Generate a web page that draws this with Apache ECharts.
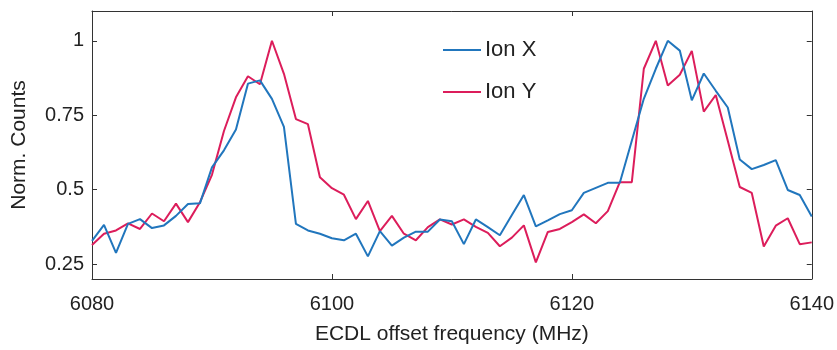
<!DOCTYPE html>
<html>
<head>
<meta charset="utf-8">
<script src="https://cdn.jsdelivr.net/npm/echarts@6/dist/echarts.min.js"></script>
<style>
  html, body { margin: 0; padding: 0; background: #fff; }
  #chart { width: 837px; height: 350px; }
</style>
</head>
<body>
<div id="chart"></div>
<script>
// ECDL offset frequency scan (MHz)
const freqs = [
  6080, 6081, 6082, 6083, 6084, 6085, 6086, 6087, 6088, 6089,
  6090, 6091, 6092, 6093, 6094, 6095, 6096, 6097, 6098, 6099,
  6100, 6101, 6102, 6103, 6104, 6105, 6106, 6107, 6108, 6109,
  6110, 6111, 6112, 6113, 6114, 6115, 6116, 6117, 6118, 6119,
  6120, 6121, 6122, 6123, 6124, 6125, 6126, 6127, 6128, 6129,
  6130, 6131, 6132, 6133, 6134, 6135, 6136, 6137, 6138, 6139,
  6140
];

// Normalized counts per ion
const ionX = [
  0.328, 0.382, 0.288, 0.385, 0.401, 0.371, 0.380, 0.412, 0.452, 0.454,
  0.575, 0.632, 0.702, 0.856, 0.867, 0.805, 0.711, 0.385, 0.363, 0.352,
  0.337, 0.330, 0.352, 0.276, 0.361, 0.312, 0.339, 0.359, 0.359, 0.400,
  0.394, 0.317, 0.400, 0.374, 0.347, 0.415, 0.482, 0.377, 0.397, 0.418,
  0.431, 0.489, 0.506, 0.523, 0.523, 0.664, 0.805, 0.906, 1.000, 0.967,
  0.800, 0.890, 0.832, 0.776, 0.601, 0.569, 0.583, 0.599, 0.499, 0.482,
  0.410
];
const ionY = [
  0.314, 0.352, 0.363, 0.387, 0.368, 0.420, 0.394, 0.453, 0.391, 0.458,
  0.550, 0.697, 0.810, 0.881, 0.854, 1.000, 0.889, 0.737, 0.720, 0.542,
  0.505, 0.483, 0.401, 0.462, 0.361, 0.412, 0.352, 0.330, 0.374, 0.400,
  0.383, 0.400, 0.375, 0.355, 0.310, 0.339, 0.380, 0.256, 0.358, 0.368,
  0.391, 0.417, 0.387, 0.428, 0.525, 0.525, 0.906, 1.000, 0.850, 0.886,
  0.966, 0.762, 0.818, 0.664, 0.509, 0.489, 0.309, 0.379, 0.404, 0.317,
  0.323
];

const seriesNames = ['Ion X', 'Ion Y'];
const yTicks = [0.25, 0.5, 0.75, 1];
const xTicks = [6080, 6100, 6120, 6140];

const FONT = '"Liberation Sans", Arial, Helvetica, sans-serif';
const AXIS_COLOR = '#333';

const pairs = arr => freqs.map((f, i) => [f, arr[i]]);

const chart = echarts.init(document.getElementById('chart'), null, { renderer: 'canvas' });

const tickInside = { show: true, inside: true, length: 5, lineStyle: { color: AXIS_COLOR, width: 1 } };

chart.setOption({
  animation: false,
  backgroundColor: '#fff',
  textStyle: { fontFamily: FONT },
  grid: { left: 92, right: 25, top: 11, bottom: 63, containLabel: false },
  legend: {
    data: seriesNames,
    orient: 'vertical',
    left: 443,
    top: 39,
    padding: 0,
    itemWidth: 38,
    itemHeight: 14,
    itemGap: 20,
    icon: 'path://M0,6 L38,6 L38,8 L0,8 Z',
    textStyle: { fontFamily: FONT, fontSize: 22, color: '#222', padding: [0, 0, 0, -1] },
    selectedMode: false
  },
  xAxis: [
    {
      type: 'value',
      min: 6080,
      max: 6140,
      interval: 20,
      name: 'ECDL offset frequency (MHz)',
      nameLocation: 'middle',
      nameGap: 45,
      nameTextStyle: { fontFamily: FONT, fontSize: 21, color: '#222' },
      axisLine: { show: true, lineStyle: { color: AXIS_COLOR, width: 1 } },
      axisTick: Object.assign({}, tickInside, { customValues: xTicks }),
      axisLabel: {
        customValues: xTicks, fontFamily: FONT, fontSize: 20, color: '#222', margin: 15,
        formatter: v => String(v)
      },
      splitLine: { show: false }
    },
    {
      type: 'value',
      position: 'top',
      min: 6080,
      max: 6140,
      interval: 20,
      axisLine: { show: true, lineStyle: { color: AXIS_COLOR, width: 1 } },
      axisTick: Object.assign({}, tickInside, { customValues: xTicks }),
      axisLabel: { show: false },
      splitLine: { show: false }
    }
  ],
  yAxis: [
    {
      type: 'value',
      min: 0.2,
      max: 1.1,
      name: 'Norm. Counts',
      nameLocation: 'middle',
      nameGap: 62,
      nameTextStyle: { fontFamily: FONT, fontSize: 21, color: '#222' },
      axisLine: { show: true, lineStyle: { color: AXIS_COLOR, width: 1 } },
      axisTick: Object.assign({}, tickInside, { customValues: yTicks }),
      axisLabel: {
        customValues: yTicks,
        fontFamily: FONT, fontSize: 20, color: '#222', margin: 8,
        formatter: v => String(+v.toFixed(2))
      },
      splitLine: { show: false }
    },
    {
      type: 'value',
      position: 'right',
      min: 0.2,
      max: 1.1,
      axisLine: { show: true, lineStyle: { color: AXIS_COLOR, width: 1 } },
      axisTick: Object.assign({}, tickInside, { customValues: yTicks }),
      axisLabel: { show: false },
      splitLine: { show: false }
    }
  ],
  series: [
    {
      name: seriesNames[0],
      type: 'line',
      data: pairs(ionX),
      symbol: 'none',
      lineStyle: { color: '#2176bd', width: 2 },
      itemStyle: { color: '#2176bd' },
      z: 3
    },
    {
      name: seriesNames[1],
      type: 'line',
      data: pairs(ionY),
      symbol: 'none',
      lineStyle: { color: '#dc1d5b', width: 2 },
      itemStyle: { color: '#dc1d5b' },
      z: 2
    }
  ]
});
</script>
</body>
</html>
